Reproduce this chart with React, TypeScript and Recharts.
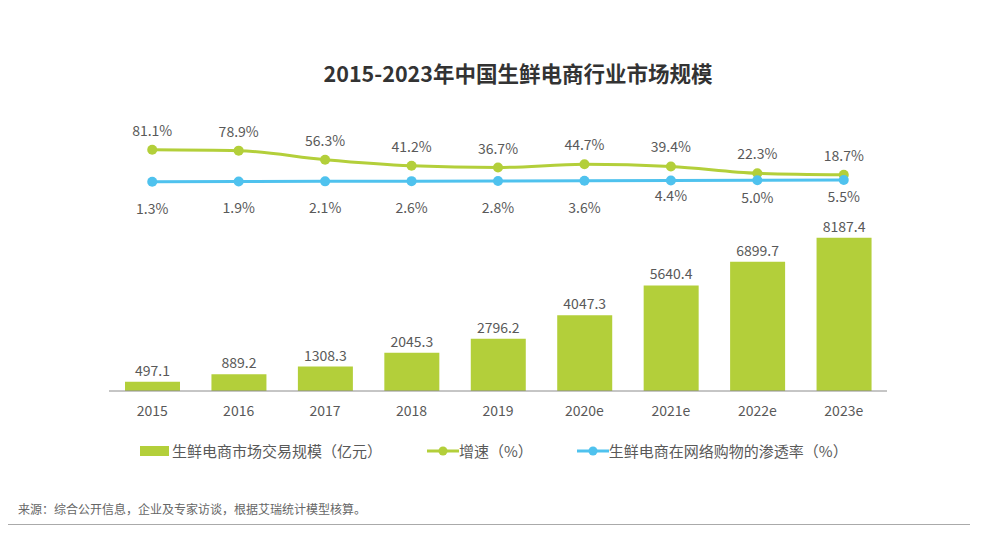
import React from "react";
import {
  ComposedChart,
  Bar,
  Line,
  XAxis,
  YAxis,
  LabelList,
} from "recharts";

const categories = ["2015", "2016", "2017", "2018", "2019", "2020e", "2021e", "2022e", "2023e"];
const marketSize = [497.1, 889.2, 1308.3, 2045.3, 2796.2, 4047.3, 5640.4, 6899.7, 8187.4];
const growthRate = [81.1, 78.9, 56.3, 41.2, 36.7, 44.7, 39.4, 22.3, 18.7];
const penetration = [1.3, 1.9, 2.1, 2.6, 2.8, 3.6, 4.4, 5.0, 5.5];

const data = categories.map((c, i) => ({
  year: c,
  size: marketSize[i],
  growth: growthRate[i],
  pen: penetration[i],
}));

const GREEN = "#B3CF3A";
const BLUE = "#4FC2EE";
const TEXT = "#595959";
const FONT = "'Noto Sans CJK SC', 'Noto Sans', sans-serif";

// label vertical offsets (style only)
const BLUE_LABEL_DY = [26, 26, 26, 26, 26, 26, 15, 17, 16];

const GreenLabel = (props: any) => {
  const { x, y, value } = props;
  return (
    <text x={x} y={y - 20} textAnchor="middle" dominantBaseline="central" fontSize={14} fill={TEXT} fontFamily={FONT}>
      {Number(value).toFixed(1)}%
    </text>
  );
};

const BlueLabel = (props: any) => {
  const { x, y, value, index } = props;
  return (
    <text x={x} y={y + BLUE_LABEL_DY[index]} textAnchor="middle" dominantBaseline="central" fontSize={14} fill={TEXT} fontFamily={FONT}>
      {Number(value).toFixed(1)}%
    </text>
  );
};

const BarLabel = (props: any) => {
  const { x, y, width, value } = props;
  return (
    <text x={x + width / 2} y={y - 12} textAnchor="middle" dominantBaseline="central" fontSize={14} fill={TEXT} fontFamily={FONT}>
      {Number(value).toFixed(1)}
    </text>
  );
};

const CustomLegend = () => (
  <div style={{ display: "flex", alignItems: "center", fontFamily: FONT, fontSize: 15, color: TEXT, lineHeight: "20px" }}>
    <div style={{ display: "flex", alignItems: "center", marginLeft: 140 }}>
      <div style={{ width: 29, height: 10, background: GREEN }} />
      <span style={{ marginLeft: 3 }}>生鲜电商市场交易规模（亿元）</span>
    </div>
    <div style={{ display: "flex", alignItems: "center", marginLeft: 45 }}>
      <svg width={32} height={12}>
        <line x1={0} y1={6} x2={32} y2={6} stroke={GREEN} strokeWidth={3} />
        <circle cx={16} cy={6} r={4.5} fill={GREEN} />
      </svg>
      <span>增速（%）</span>
    </div>
    <div style={{ display: "flex", alignItems: "center", marginLeft: 44 }}>
      <svg width={32} height={12}>
        <line x1={0} y1={6} x2={32} y2={6} stroke={BLUE} strokeWidth={3} />
        <circle cx={16} cy={6} r={4.5} fill={BLUE} />
      </svg>
      <span>生鲜电商在网络购物的渗透率（%）</span>
    </div>
  </div>
);

export default function App() {
  return (
    <div style={{ position: "relative", width: 983, height: 533, margin: -8, background: "#fff", fontFamily: FONT }}>
      <div
        style={{
          position: "absolute",
          left: 0,
          width: 1036,
          top: 58,
          textAlign: "center",
          fontSize: 21.5,
          fontWeight: 700,
          color: "#333",
          lineHeight: "30px",
        }}
      >
        2015-2023年中国生鲜电商行业市场规模
      </div>
      <ComposedChart
        width={983}
        height={533}
        data={data}
        margin={{ top: 100, right: 96, bottom: 112, left: 109 }}
      >
        <XAxis
          dataKey="year"
          height={30}
          axisLine={{ stroke: "#8c8c8c", strokeWidth: 1 }}
          tickLine={false}
          tickSize={0}
          tickMargin={15}
          tick={{ fontSize: 14, fill: TEXT, fontFamily: FONT }}
          interval={0}
        />
        <YAxis yAxisId="bar" hide domain={[0, 15542]} />
        <YAxis yAxisId="line" hide domain={[-522, 205.5]} />
        <Bar yAxisId="bar" dataKey="size" fill={GREEN} barSize={55} isAnimationActive={false}>
          <LabelList dataKey="size" content={<BarLabel />} />
        </Bar>
        <Line
          yAxisId="line"
          type="monotone"
          dataKey="growth"
          stroke={GREEN}
          strokeWidth={3}
          dot={{ r: 5, fill: GREEN, stroke: GREEN, strokeWidth: 0 }}
          isAnimationActive={false}
        >
          <LabelList dataKey="growth" content={<GreenLabel />} />
        </Line>
        <Line
          yAxisId="line"
          type="linear"
          dataKey="pen"
          stroke={BLUE}
          strokeWidth={3}
          dot={{ r: 5, fill: BLUE, stroke: BLUE, strokeWidth: 0 }}
          isAnimationActive={false}
        >
          <LabelList dataKey="pen" content={<BlueLabel />} />
        </Line>
      </ComposedChart>
      <div style={{ position: "absolute", left: 0, top: 441, width: 983 }}>
        <CustomLegend />
      </div>
      <div
        style={{
          position: "absolute",
          left: 18,
          top: 501,
          fontSize: 12,
          color: "#666",
          fontFamily: FONT,
          lineHeight: "16px",
        }}
      >
        来源：综合公开信息，企业及专家访谈，根据艾瑞统计模型核算。
      </div>
      <div style={{ position: "absolute", left: 8, width: 962, top: 524, height: 1, background: "#aaa" }} />
    </div>
  );
}
